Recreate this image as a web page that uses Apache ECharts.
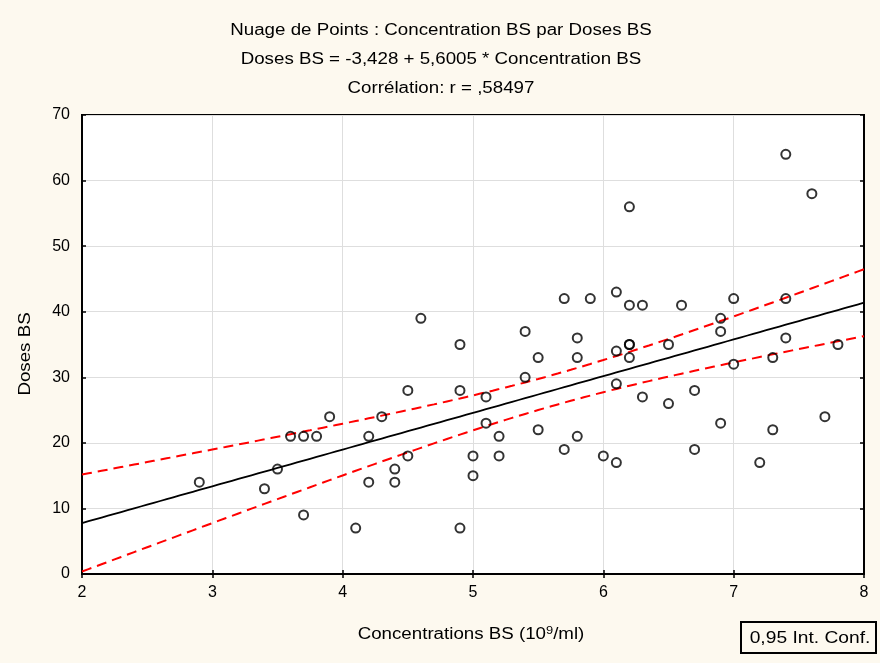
<!DOCTYPE html>
<html><head><meta charset="utf-8">
<script src="https://cdn.jsdelivr.net/npm/echarts@6/dist/echarts.min.js"></script>
<style>html,body{margin:0;padding:0;background:#fdf9ef}#c{width:880px;height:663px}</style>
</head><body><div id="c"></div>
<script>
const concentration = [2.9,3.4,3.5,3.6,3.7,3.7,3.8,3.9,4.1,4.2,4.2,4.3,4.4,4.4,4.5,4.5,4.6,4.9,4.9,4.9,5.0,5.0,5.1,5.1,5.2,5.2,5.4,5.4,5.5,5.5,5.7,5.7,5.8,5.8,5.8,5.9,6.0,6.1,6.1,6.1,6.1,6.2,6.2,6.2,6.2,6.2,6.3,6.3,6.5,6.5,6.6,6.7,6.7,6.9,6.9,6.9,7.0,7.0,7.2,7.3,7.3,7.4,7.4,7.4,7.6,7.7,7.8];
const doses =         [14, 13, 16, 21, 21, 9,  21, 24, 7,  21, 14, 24, 16, 14, 28, 18, 39, 35, 28, 7,  18, 15, 27, 23, 21, 18, 37, 30, 33, 22, 42, 19, 36, 33, 21, 42, 18, 43, 34, 29, 17, 56, 41, 35, 35, 33, 41, 27, 35, 26, 41, 28, 19, 39, 37, 23, 42, 32, 17, 33, 22, 64, 42, 36, 58, 24, 35];
const intercept = -3.428, slope = 5.6005;
const xTicks = [2,3,4,5,6,7,8];
const yTicks = [0,10,20,30,40,50,60,70];
const titleLines = ['Nuage de Points : Concentration BS par Doses BS','Doses BS = -3,428 + 5,6005 * Concentration BS','Corrélation: r = ,58497'];
const xName = ['Concentrations BS (10','9','/ml)'];
const yName = 'Doses BS';
const legendText = '0,95 Int. Conf.';

const pts = concentration.map((x,i)=>[x,doses[i]]);
const n = pts.length;
const xbar = concentration.reduce((a,b)=>a+b,0)/n;
const sxx = concentration.reduce((a,x)=>a+(x-xbar)*(x-xbar),0);
const sse = pts.reduce((a,p)=>{const r=p[1]-(intercept+slope*p[0]);return a+r*r;},0);
const s = Math.sqrt(sse/(n-2));
const tq = 1.997;
const fit=[],up=[],lo=[];
for(let k=0;k<=120;k++){const x=xTicks[0]+(xTicks[xTicks.length-1]-xTicks[0])*k/120;const y=intercept+slope*x;const h=tq*s*Math.sqrt(1/n+(x-xbar)*(x-xbar)/sxx);fit.push([x,y]);up.push([x,y+h]);lo.push([x,y-h]);}

const font='"Liberation Sans", Arial, sans-serif';
const SX = 1.17;
const chart = echarts.init(document.getElementById('c'));
const axisCommon = {
  axisLine:{show:true,lineStyle:{color:'#000',width:2}},
  axisTick:{inside:true,length:4,lineStyle:{color:'#000',width:1.5}}
};
chart.setOption({
  backgroundColor:'#fdf9ef',
  animation:false,
  grid:{left:82,right:16,top:115,bottom:89,show:true,backgroundColor:'#ffffff',borderColor:'#000',borderWidth:2},
  xAxis:[Object.assign({type:'value',min:xTicks[0],max:xTicks[xTicks.length-1],interval:1,position:'bottom',
    axisLabel:{fontFamily:font,fontSize:16,color:'#000',margin:11},
    splitLine:{show:true,lineStyle:{color:'#dedede',width:1}}},axisCommon),
    Object.assign({type:'value',min:xTicks[0],max:xTicks[xTicks.length-1],interval:1,position:'top',
    axisLabel:{show:false},splitLine:{show:false}},axisCommon)],
  yAxis:[Object.assign({type:'value',min:yTicks[0],max:yTicks[yTicks.length-1],interval:10,position:'left',
    axisLabel:{fontFamily:font,fontSize:16,color:'#000',margin:12},
    splitLine:{show:true,lineStyle:{color:'#dedede',width:1}}},axisCommon),
    Object.assign({type:'value',min:yTicks[0],max:yTicks[yTicks.length-1],interval:10,position:'right',
    axisLabel:{show:false},splitLine:{show:false}},axisCommon)],
  series:[
    {type:'line',data:up,showSymbol:false,lineStyle:{color:'#ff0000',width:2,type:[10,6]},z:2},
    {type:'line',data:lo,showSymbol:false,lineStyle:{color:'#ff0000',width:2,type:[10,6]},z:2},
    {type:'line',data:fit,showSymbol:false,lineStyle:{color:'#000',width:1.8},z:3},
    {type:'scatter',data:pts,symbol:'circle',symbolSize:9,itemStyle:{color:'rgba(255,255,255,0)',borderColor:'#000',borderWidth:2},z:4}
  ],
  graphic:[
    ...titleLines.map((t,i)=>({type:'text',x:441,y:31+i*29,scaleX:SX,style:{text:t,font:'16px '+font,fill:'#000',align:'center',verticalAlign:'middle'}})),
    {type:'text',x:26,y:354,rotation:Math.PI/2,scaleX:SX,style:{text:yName,font:'16px '+font,fill:'#000',align:'center',verticalAlign:'middle'}},
    {type:'text',x:471,y:634,scaleX:SX,style:{text:'{a|'+xName[0]+'}{s|'+xName[1]+'}{a|'+xName[2]+'}',align:'center',verticalAlign:'middle',rich:{a:{font:'16px '+font,fill:'#000',verticalAlign:'bottom'},s:{font:'11px '+font,fill:'#000',verticalAlign:'top',padding:[0,0,7,0]}}}},
    {type:'rect',shape:{x:741,y:622,width:135,height:31},style:{fill:'#fdf9ef',stroke:'#000',lineWidth:2}},
    {type:'text',x:810,y:639,scaleX:1.2,style:{text:legendText,font:'16px '+font,fill:'#000',align:'center',verticalAlign:'middle'}}
  ]
});
</script></body></html>
